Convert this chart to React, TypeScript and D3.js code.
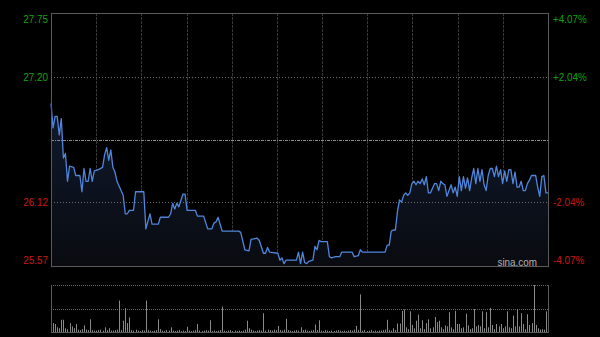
import React from 'react';
import * as d3 from 'd3';

// price ticks (left) and percent ticks (right)
const priceTicks = [27.75, 27.2, 26.12, 25.57];
const priceLabels = ['27.75', '27.20', '26.12', '25.57'];
const pctLabels = ['+4.07%', '+2.04%', '-2.04%', '-4.07%'];
const prevClose = 26.66;

// minute index of each price sample
const minutes = [
  0, 1, 2, 3, 4, 5, 6, 7, 8, 9, 11, 12, 14, 15, 16, 17, 18, 19, 20, 21, 23, 25, 26, 27, 28, 29, 30, 31, 32,
  35, 36, 37, 38, 40, 41, 45, 46, 48, 49, 52, 53, 57, 58, 59, 60, 61, 62, 64, 65, 66, 70, 71, 74, 76, 78,
  79, 80, 81, 83, 91, 92, 94, 96, 97, 100, 101, 103, 104, 105, 106, 110, 111, 112, 113, 114, 119, 120, 121,
  122, 123, 124, 125, 127, 128, 129, 130, 131, 134, 135, 136, 138, 140, 141, 146, 147, 149, 150, 151, 162,
  163, 164, 165, 166, 167, 168, 169, 170, 171, 172, 173, 174, 175, 176, 177, 178, 179, 180, 181, 182, 183,
  184, 185, 186, 187, 188, 189, 190, 191, 192, 193, 194, 195, 196, 197, 198, 199, 200, 201, 202, 203, 204,
  205, 206, 207, 208, 209, 210, 211, 212, 213, 214, 215, 216, 217, 218, 219, 220, 221, 222, 223, 224, 225,
  226, 227, 228, 229, 230, 231, 232, 233, 234, 235, 236, 237, 238, 239, 240, 241,
];

const prices = [
  26.97, 26.76, 26.86, 26.86, 26.7, 26.84, 26.5, 26.54, 26.3, 26.43, 26.42, 26.35, 26.35, 26.21, 26.41,
  26.3, 26.3, 26.41, 26.3, 26.39, 26.4, 26.42, 26.53, 26.59, 26.48, 26.57, 26.42, 26.38, 26.3,
  26.18, 26.02, 26.02, 26.05, 26.05, 26.21, 26.21, 25.89, 26.02, 25.93, 25.93, 25.99, 25.99, 26.02, 26.11,
  26.06, 26.11, 26.08, 26.19, 26.19, 26.05, 26.05, 26.0, 26.0, 25.89, 25.89,
  25.94, 25.95, 25.99, 25.87, 25.87, 25.86, 25.71, 25.7, 25.8, 25.81, 25.79, 25.68, 25.68, 25.73, 25.69,
  25.68, 25.62, 25.64, 25.59, 25.62, 25.62, 25.69, 25.59,
  25.69, 25.6, 25.59, 25.61, 25.62, 25.74, 25.71, 25.79, 25.78, 25.78, 25.65, 25.64, 25.65, 25.65, 25.69,
  25.69, 25.65, 25.66, 25.71, 25.69, 25.69,
  25.75, 25.75, 25.87, 25.88, 25.88, 26.04, 26.14, 26.12, 26.18, 26.2, 26.18, 26.2, 26.28, 26.3, 26.27,
  26.3, 26.28, 26.32, 26.27, 26.34, 26.2,
  26.2, 26.24, 26.28, 26.28, 26.22, 26.3, 26.28, 26.27, 26.17, 26.22, 26.27, 26.2, 26.25, 26.17, 26.34,
  26.22, 26.34, 26.24, 26.33, 26.22, 26.33,
  26.41, 26.28, 26.41, 26.3, 26.4, 26.27, 26.22, 26.35, 26.41, 26.41, 26.34, 26.43, 26.34, 26.4, 26.28,
  26.39, 26.3, 26.4, 26.4, 26.28, 26.38,
  26.25, 26.25, 26.3, 26.22, 26.22, 26.28, 26.31, 26.35, 26.35, 26.35, 26.25, 26.17, 26.34, 26.35, 26.2,
  26.2,
];

// volume per minute (relative)
const volumes = [
  82, 19, 17, 10, 8, 26, 26, 8, 6, 19,
  12, 8, 17, 5, 4, 6, 14, 5, 4, 27,
  4, 3, 3, 4, 5, 3, 10, 4, 8, 3,
  3, 4, 5, 67, 4, 24, 51, 19, 31, 4,
  3, 5, 3, 2, 4, 3, 67, 4, 3, 2,
  3, 4, 27, 6, 3, 2, 4, 3, 10, 3,
  2, 3, 4, 2, 3, 2, 11, 3, 2, 3,
  4, 17, 3, 2, 3, 4, 3, 25, 2, 3,
  2, 3, 4, 54, 3, 2, 3, 4, 2, 3,
  2, 3, 2, 3, 5, 24, 8, 5, 3, 2,
  3, 4, 3, 40, 3, 5, 4, 3, 5, 4,
  13, 4, 3, 5, 28, 4, 3, 2, 3, 4,
  3, 10, 4, 5, 3, 2, 3, 4, 16, 4,
  25, 3, 2, 4, 3, 2, 3, 2, 3, 4,
  3, 2, 3, 2, 3, 4, 3, 5, 13, 4,
  80, 3, 4, 2, 3, 4, 2, 3, 2, 3,
  3, 4, 5, 26, 4, 3, 8, 4, 18, 18,
  45, 48, 10, 6, 44, 15, 8, 24, 37, 8,
  25, 6, 19, 27, 8, 10, 32, 21, 24, 10,
  6, 14, 12, 42, 10, 6, 45, 17, 17, 8,
  10, 39, 14, 6, 8, 49, 12, 15, 12, 44,
  8, 42, 10, 51, 15, 6, 17, 12, 17, 8,
  12, 44, 10, 8, 35, 12, 49, 12, 40, 17,
  6, 38, 15, 19, 100, 15, 8, 5, 6, 5,
  44, 22,
];

const W = 600, H = 337;
const left = 51, right = 548;
const top = 13, bottom = 266;
const vTop = 285, vBottom = 332;
const font = '"Liberation Sans", Arial, sans-serif';
const squeeze = 0.86;

// narrow-looking label: scaled horizontally around its anchor
function Label(props: { x: number; y: number; anchor: string; fill: string; children: string }) {
  return (
    <text transform={`translate(${props.x},${props.y}) scale(${squeeze},1)`} dy="0.36em"
      textAnchor={props.anchor} fontFamily={font} fontSize={11.5} fill={props.fill}>
      {props.children}
    </text>
  );
}

export default function App() {
  const x = d3.scaleLinear().domain([0, 241]).range([left, right]);
  const y = d3.scaleLinear().domain([25.57, 27.75]).range([bottom, top]);
  const xGrid = d3.scaleLinear().domain([0, 11]).range([left, right]);
  const yVol = d3.scaleLinear().domain([0, d3.max(volumes) as number]).range([vBottom, vTop]);

  const pts: [number, number][] = minutes.map((m, i) => [m, prices[i]]);
  const line = d3.line<[number, number]>().x(d => x(d[0])).y(d => y(d[1]));
  const area = d3.area<[number, number]>().x(d => x(d[0])).y0(bottom).y1(d => y(d[1]));

  const labelY = (i: number) => {
    const yy = y(priceTicks[i]);
    if (yy < top + 6) return top + 6;
    if (yy > bottom - 6) return bottom - 6;
    return yy;
  };
  const colorOf = (p: number) => (p > prevClose ? '#12a012' : '#cc1616');

  return (
    <div style={{ position: 'absolute', left: 0, top: 0 }}>
      <svg width={W} height={H} style={{ display: 'block', background: '#000' }}>
        <defs>
          <linearGradient id="fillGrad" x1="0" y1={top} x2="0" y2={bottom} gradientUnits="userSpaceOnUse">
            <stop offset="0" stopColor="#15243f" />
            <stop offset="0.35" stopColor="#101a2e" />
            <stop offset="1" stopColor="#090b10" />
          </linearGradient>
        </defs>
        <rect x={0} y={0} width={W} height={H} fill="#000" />

        {/* vertical grid */}
        {d3.range(1, 11).map(i => (
          <line key={'vg' + i} x1={Math.round(xGrid(i)) + 0.5} x2={Math.round(xGrid(i)) + 0.5} y1={top} y2={bottom}
            stroke="#383838" strokeDasharray="3,1" />
        ))}

        <path d={area(pts) || ''} fill="url(#fillGrad)" />

        {/* horizontal grid */}
        {[27.2, 26.12].map(v => (
          <line key={'hg' + v} x1={left} x2={right} y1={Math.round(y(v)) + 0.5} y2={Math.round(y(v)) + 0.5}
            stroke="#6a6a6a" strokeDasharray="1,2" />
        ))}
        <line x1={left} x2={right} y1={Math.round(y(prevClose)) + 0.5} y2={Math.round(y(prevClose)) + 0.5}
          stroke="#8a8a8a" strokeDasharray="3,1,1,1" />

        <path d={line(pts) || ''} fill="none" stroke="#4f86dc" strokeWidth={1.3} strokeLinejoin="round" />

        {/* frame */}
        <rect x={left + 0.5} y={top + 0.5} width={right - left} height={bottom - top} fill="none" stroke="#5a5a5a" />

        {/* axis labels */}
        {priceLabels.map((t, i) => (
          <Label key={'pl' + i} x={48} y={labelY(i)} anchor="end" fill={colorOf(priceTicks[i])}>{t}</Label>
        ))}
        {pctLabels.map((t, i) => (
          <Label key={'pr' + i} x={553} y={labelY(i)} anchor="start" fill={colorOf(priceTicks[i])}>{t}</Label>
        ))}

        <Label x={537} y={262} anchor="end" fill="#b0b0b0">sina.com</Label>

        {/* volume panel */}
        <line x1={left} x2={right} y1={vTop + 0.5} y2={vTop + 0.5} stroke="#666" strokeDasharray="1,1" />
        <line x1={left} x2={right} y1={Math.round((vTop + vBottom) / 2) + 0.5} y2={Math.round((vTop + vBottom) / 2) + 0.5}
          stroke="#666" strokeDasharray="1,1" />
        {volumes.map((v, i) => (
          <rect key={'v' + i} x={Math.round(x(i))} y={yVol(v)} width={1} height={vBottom - yVol(v)} fill="#8a8a8a" />
        ))}
        <line x1={left + 0.5} x2={left + 0.5} y1={vTop} y2={vBottom + 1} stroke="#5a5a5a" />
        <line x1={right + 0.5} x2={right + 0.5} y1={vTop} y2={vBottom + 1} stroke="#5a5a5a" />
        <line x1={left} x2={right + 1} y1={vBottom + 0.5} y2={vBottom + 0.5} stroke="#5a5a5a" />
      </svg>
    </div>
  );
}
